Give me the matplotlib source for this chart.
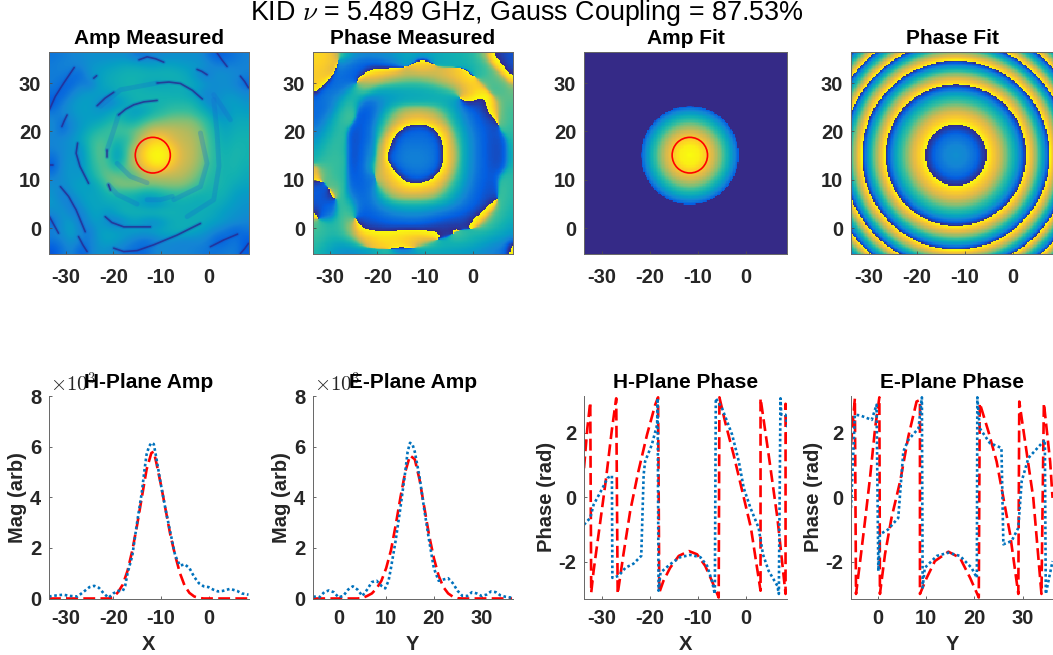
import numpy as np
import matplotlib
matplotlib.use("Agg")
import matplotlib.pyplot as plt
from matplotlib.colors import LinearSegmentedColormap
from matplotlib.patches import Circle

plt.rcParams['font.family'] = ['Liberation Sans', 'DejaVu Sans']
plt.rcParams['mathtext.fontset'] = 'cm'
plt.rcParams['axes.unicode_minus'] = False

SUPTITLE = r'KID $\nu$ = 5.489 GHz, Gauss Coupling = 87.53%'
TOP_TITLES = ['Amp Measured', 'Phase Measured', 'Amp Fit', 'Phase Fit']
BOTTOM_TITLES = ['H-Plane Amp', 'E-Plane Amp', 'H-Plane Phase', 'E-Plane Phase']
X_TICKS = [-30, -20, -10, 0]
Y_TICKS = [0, 10, 20, 30]
X_LIMS = [(-33.5, 8.4), (-33.5, 8.4), (-33.7, 8.5), (-33.7, 8.5)]
Y_LIM = (-5.3, 36.4)
E_LIMS = [(-5.35, 36.5), (-5.6, 36.5)]
CENTER = (-11.7, 15.1)
PHASE_CENTER = (-11.9, 15.1)
BEAM_RADIUS = 3.68

PARULA_ANCHORS = [(.208,.166,.529),(.014,.372,.884),(.078,.518,.835),(.024,.624,.767),(.074,.698,.690),
                  (.216,.745,.612),(.49,.75,.47),(.72,.73,.36),(.90,.73,.27),(.99,.81,.15),(.976,.983,.054)]

# Amp Measured, percent of the colour range, rows from top to bottom
AMP_MEAS = [
[22,24,26,28,30,30,30,30,30,22,22,26,28,30,30,30,30,22,15,18,22,25],
[24,26,26,26,32,34,36,38,40,40,38,36,38,38,36,34,34,30,25,25,25,26],
[24,24,20,18,32,36,40,42,44,44,44,44,44,44,42,38,26,22,32,30,28,25],
[24,18,16,26,20,36,40,42,44,44,40,38,38,40,42,40,38,32,28,30,26,18],
[20,14,26,32,36,36,36,40,42,44,44,44,44,42,42,38,30,26,30,32,32,28],
[12,24,32,36,36,30,22,30,38,44,44,44,44,46,46,46,40,26,30,36,36,32],
[22,28,32,36,36,32,36,42,40,34,36,44,48,50,50,50,46,40,26,30,38,36],
[28,20,28,34,36,38,44,48,42,42,50,54,56,58,58,58,54,48,38,34,40,40],
[28,18,28,34,42,48,50,52,52,55,60,68,68,66,64,62,58,50,42,38,42,42],
[26,28,32,38,48,52,50,46,48,56,72,85,85,72,66,64,60,52,44,40,44,44],
[26,28,32,30,48,54,50,36,50,66,88,97,97,88,70,66,60,52,46,42,46,44],
[20,28,34,28,46,54,50,30,52,68,90,100,100,90,72,66,60,52,46,44,46,44],
[14,30,34,30,44,52,52,44,54,64,80,92,92,78,68,64,58,50,46,44,46,42],
[24,30,34,32,40,50,56,56,50,50,60,64,64,64,64,60,54,48,46,44,44,40],
[30,28,34,38,34,42,52,58,60,60,58,56,58,58,58,54,50,46,46,44,40,38],
[32,22,30,36,38,38,44,46,44,44,38,40,44,48,48,46,44,44,44,42,36,34],
[34,28,22,32,38,38,40,40,42,38,32,28,34,40,42,42,40,42,42,38,34,32],
[28,34,24,24,36,38,32,40,44,44,46,46,46,44,42,40,42,42,38,34,32,30],
[18,32,36,20,32,36,26,22,30,36,28,26,32,40,42,42,42,38,36,32,30,26],
[26,30,38,26,22,36,38,36,36,36,36,38,40,42,42,40,36,32,26,22,14,22],
[22,26,34,24,24,34,38,36,30,24,20,22,28,28,26,26,28,24,14,16,24,14],
[12,22,28,14,24,32,30,26,22,20,18,26,28,26,26,26,24,22,22,24,24,14],
]
# Colour response of the Amp Measured panel
AMP_LEVEL_IN = [0, 12, 20, 30, 36, 40, 44, 48, 50, 54, 58, 62, 66, 72, 85, 97, 100]
AMP_LEVEL_OUT = [0, 8, 14, 24, 30, 35, 40, 45, 50, 56, 62, 68, 73, 78, 90, 98, 100]
# Thin dark nulls in Amp Measured, read in data coordinates
AMP_NULLS = [
[(-33.4,24.5),(-32.2,27.2),(-30.4,30),(-28.2,33.2)], [(-24.1,31),(-23.5,31.5)],
[(-14.6,34.8),(-12.9,35.4),(-11.1,35),(-9.4,34.3)],
[(1.8,36.2),(2.8,34.8),(3.9,33.4)], [(-2.4,32.8),(-1.4,32.4),(-.3,31.7)], [(6.7,31.4),(7.6,30.3),(8.4,29)],
[(-10.8,30),(-8.3,30.2),(-5.9,29.9),(-3.4,28.5),(-1.3,26.7)],
[(-23.4,25.3),(-21.7,26.9),(-19.9,28.1)], [(-18.9,23.4),(-17.4,24.6),(-15.7,25.5),(-13.6,26.1),(-10.8,26.4)],
[(-30.8,21),(-30.3,22.2),(-29.7,23.4)],
[(-27.5,17.6),(-27.8,15.5),(-27,12.8),(-25.2,9.3)], [(-21.3,16.2),(-21.3,14.8)], [(-33.2,13.1),(-32.6,13.1)],
[(-31.1,8.6),(-29.4,6.6),(-27.8,3.8),(-25.9,-.7)], [(-21,9),(-20.6,7.9)],
[(-21.7,2.4),(-20.3,1.2),(-17.8,.3),(-12.2,.3)],
[(-19.9,-4.1),(-17.8,-4.8),(-15,-4.6),(-11.5,-3.4),(-6.6,-1.4),(-1.7,1)],
[(.4,-3.8),(3.2,-2.4),(6.1,-1.2)], [(-27.3,-1.7),(-26.4,-3.4),(-25.5,-4.8)],
[(-33.4,2.4),(-32.4,.6),(-31.5,-1)], [(6.7,-5.2),(7.6,-4.2),(8.4,-3.1)],
]
AMP_FAINT = [
[(-12.9,5.9),(-10.1,5.9),(-7.6,6.6)], [(-19.2,13.4),(-16.4,10.7),(-12.9,9.4)], [(1.1,27.6),(2.9,25),(4.6,22.4)],
[(-22.7,25.2),(-18.5,28.6),(-10.8,30)], [(-1.7,19.7),(-.3,13.4),(-1.7,8.6),(-7.3,5.9)],
[(1.1,26.6),(1.8,19.7),(2.2,12.8),(1.1,5.9),(-4.5,2.4)], [(-21.3,16.2),(-20,20),(-18.9,23.4)],
[(-21,9),(-19.2,7),(-15,5)],
]

# Phase Measured, percent of one cycle, rows from top to bottom
PHASE_MEAS = [
[90,95,80,55,35,25,25,25,28,32,35,35,35,35,38,40,42,48,70,5,5,8],
[92,92,85,30,15,12,12,15,18,25,33,95,95,35,35,38,40,42,55,90,5,10],
[88,88,60,15,10,12,95,92,88,85,80,78,78,82,85,88,95,40,45,55,90,8],
[90,85,15,12,12,70,75,68,62,58,55,55,58,65,72,80,92,97,55,52,58,95],
[85,20,15,15,40,58,45,35,33,32,32,33,35,40,48,58,72,88,95,48,50,58],
[15,15,18,35,50,25,12,18,25,30,35,35,35,33,30,25,90,3,5,90,55,55],
[12,12,20,45,55,8,8,22,45,62,68,70,68,62,48,30,18,10,5,85,52,50],
[12,18,35,52,55,8,10,32,58,75,85,88,85,78,60,38,22,12,8,5,60,48],
[15,25,40,50,8,8,15,45,72,95,12,12,14,96,80,50,28,15,10,6,55,45],
[22,35,45,52,6,8,15,55,92,14,14,14,14,12,90,60,32,18,10,6,8,48],
[30,42,50,45,6,8,25,65,95,16,18,18,17,15,92,65,35,18,10,6,6,45],
[40,45,50,50,6,8,25,70,14,18,20,20,19,15,93,68,35,18,10,6,6,42],
[92,55,50,48,6,10,40,72,92,15,18,19,18,14,92,62,33,18,10,7,6,45],
[90,60,50,48,8,10,18,70,88,97,12,14,12,95,80,55,30,16,10,8,50,45],
[10,12,60,50,12,10,15,55,78,88,95,95,90,85,62,42,25,14,9,6,55,42],
[8,10,92,52,18,12,15,38,62,70,72,72,70,62,48,32,20,12,8,8,55,42],
[8,10,15,55,42,12,14,22,32,38,40,40,38,33,28,20,14,10,8,88,50,40],
[88,12,14,55,50,8,10,12,16,18,20,20,18,14,12,10,8,6,90,55,45,38],
[55,50,45,50,75,6,8,8,10,10,10,10,8,6,3,2,3,90,60,48,40,32],
[52,48,42,50,65,90,95,97,95,92,92,92,95,95,3,60,50,45,40,35,32,25],
[48,42,35,30,40,60,78,88,92,90,85,70,60,50,45,40,38,35,30,25,22,90],
[45,35,28,22,18,22,30,40,45,30,28,28,28,28,28,28,26,24,20,16,15,90],
]

# Amp Fit: radial colour profile read across the disc
AMP_FIT_R = [0, 2, 3.5, 5, 6.5, 8, 9.5, 10.1, 10.15, 60]
AMP_FIT_V = [1.0, .97, .88, .75, .58, .38, .18, .1, 0, 0]
# Phase Fit: radius and unwrapped phase, with the ring edges
PHASE_FIT_R = [0, 2, 4, 6.35, 9, 12, 14.6, 17, 19.5, 21.5, 23.5, 27, 30.3, 34, 40]
PHASE_FIT_P = [-1.67, -1.82, -2.26, -3.1416, -4.61, -6.9, -9.4248, -12.16, -15.708, -18.45, -21.99, -28.27, -34.56, -43.6, -59.7]

H_AMP_BLUE_X = [-33.5,-32,-30.5,-29,-27.5,-26,-25,-24,-23,-22,-21,-20,-19,-18,-17.5,-17,-16,-15,-14,-13.5,-13,-12.5,-12,-11.5,-11,-10,-9,-8,-7,-6,-5,-4,-3,-2,-1,0,1,2,3,4.5,6,7,8.4]
H_AMP_BLUE_Y = [.08,.12,.15,.1,.08,.3,.45,.5,.42,.2,.03,.2,.3,.3,.5,1.0,1.7,3.0,4.2,5.0,5.7,6.0,6.15,6.1,5.6,4.5,3.5,2.6,1.7,1.3,1.35,1.2,.85,.6,.48,.45,.35,.28,.3,.38,.3,.2,.15]
H_AMP_RED_X = [-33.5,-21,-20,-19,-18,-17,-16,-15,-14,-13,-12,-11.5,-11,-10,-9,-8,-7,-6,-5,-4,-3,-2,-1,8.4]
H_AMP_RED_Y = [0,0,.05,.25,.55,1.1,1.9,2.9,4.0,5.1,5.75,5.8,5.4,4.5,3.5,2.5,1.7,1.0,.5,.22,.08,.02,0,0]
E_AMP_BLUE_X = [-5.3,-4,-3,-2,-1,0,1,2,3,4,5,6,7,8,9,9.8,10.5,11,12,13,14,14.5,15,15.5,16,17,18,19,20,21,22,23,24,25,26,27,28,29,30,31,32,33,34,35,36.4]
E_AMP_BLUE_Y = [.08,.05,.25,.32,.25,.05,.1,.35,.48,.35,.1,.35,.65,.7,.5,.4,.7,1.2,2.3,3.6,5,5.8,6.15,6.1,5.8,4.8,3.5,2.3,1.2,.7,.75,.8,.6,.3,.1,.1,.25,.2,.1,.15,.28,.25,.12,.07,.03]
E_AMP_RED_X = [-5.3,4,5,6,7,8,9,10,11,12,13,14,15,16,17,18,19,20,21,22,23,24,25,26,36.4]
E_AMP_RED_Y = [0,0,.02,.1,.2,.4,.7,1.2,1.9,2.9,4.0,5.0,5.65,5.5,4.7,3.6,2.5,1.6,.9,.45,.2,.07,.01,0,0]

H_PH_RED_X = [-33.7,-33,-32.4,-32.2,-31.7,-30.3,-29.1,-27.9,-27,-26.7,-25.5,-24.1,-22.4,-20.6,-18.9,-18.3,-18.05,-17.2,-15.8,-14,-11.9,-10.2,-8.5,-7.1,-5.7,-5.55,-4.3,-2.6,-.8,1,3,3,4.7,6.5,8.2,8.2,8.7]
H_PH_RED_Y = [.9,2.15,2.95,-2.96,-2.28,-.74,.6,2.1,3.07,-3.0,-1.77,-.43,.8,1.94,2.87,3.1,-2.96,-2.6,-2.19,-1.82,-1.67,-1.77,-2.13,-2.6,-3.11,3.1,2.3,1.32,.19,-.95,-2.9,3.07,1.3,-.64,-3.0,2.9,1.5]
H_PH_BLUE_X = [-33.7,-32.4,-31.7,-30,-28.8,-27.9,-27.8,-26.5,-25.1,-23.4,-21.8,-21.3,-21,-19.6,-18.5,-18.4,-18.2,-17.8,-15.8,-13.7,-11.6,-9.5,-8.1,-7.1,-6.5,-6.3,-5,-2.9,-1.5,-.5,.9,2.6,3.5,4.7,6.5,6.8,7.15,7.3,8.2,8.7]
H_PH_BLUE_Y = [-.85,-.64,-.23,.24,.6,.67,-2.5,-2.44,-2.19,-2.06,-1.82,.7,1.11,1.63,2.25,3.07,-2.9,-2.34,-2.08,-1.86,-1.79,-1.86,-2.13,-2.6,-3.0,3.07,2.76,1.94,1.1,.29,-.33,-.95,-1.77,-2.29,-2.75,-3.0,3.07,2.56,2.56,2.1]
E_PH_RED_X = [-5.6,-4.8,-4.56,-3.7,-2.7,-1.66,-.6,.28,.4,1.45,2.8,4.6,6.3,8,8.7,8.7,10.1,11.8,14.6,17,19.1,20.9,21.1,22.9,24.6,26,27.4,29.1,29.3,30.8,32.2,33.9,34.4,35.7,36.2]
E_PH_RED_Y = [1.63,3.07,-3,-1.98,-.74,.6,2.14,3.1,-3,-1.77,-.64,.5,1.89,2.97,3.02,-3.0,-2.5,-1.98,-1.69,-1.88,-2.5,-3.11,2.92,2.04,1.11,-.02,-1.15,-3,2.97,1.42,-.02,-3,2.92,1.11,-.02]
E_PH_BLUE_X = [-5.6,-4.8,-3.7,-1.3,-.3,.07,.4,2.1,4.2,5.25,6.3,8.4,9.1,9.26,9.7,12.2,14.6,17,19.4,20.5,20.6,21.1,23.2,25.6,26,27.7,29.1,29.8,31.2,34.6,34.8,36.2]
E_PH_BLUE_Y = [-.33,2.56,2.54,2.4,2.87,-2.29,-1.15,-1,-.64,1.42,1.78,2.14,3.1,-2.8,-2.19,-1.82,-1.72,-1.82,-2.19,-2.5,3.1,2.14,1.68,1.53,-1.46,-1.36,-.95,.5,1.22,1.78,-3,-1.98]

W, H = 1053, 655
GRAY = (.15, .15, .15)
BLUE = (0, .447, .741)
RED = (1, 0, 0)
parula = LinearSegmentedColormap.from_list('parula', PARULA_ANCHORS, N=256)

fig = plt.figure(figsize=(W/100, H/100), dpi=100)

def make_ax(left, right, top, bottom):
    ax = fig.add_axes([left/W, 1-bottom/H, (right-left)/W, (bottom-top)/H])
    ax.tick_params(direction='in', length=2.5, width=.6, color=(.3,.3,.3), labelsize=14.5, labelcolor=GRAY, pad=5.5)
    for s in ax.spines.values():
        s.set_linewidth(.7)
        s.set_color((.4,.4,.4))
    return ax

def bold_ticks(ax):
    for lab in ax.get_xticklabels() + ax.get_yticklabels():
        lab.set_fontweight('bold')

def title(ax, txt):
    ax.set_title(txt, fontsize=15, fontweight='bold', color='black', pad=6)

def upsample(grid, n):
    grid = np.asarray(grid)
    r, c = grid.shape
    ri = np.linspace(0, r-1, (r-1)*n+1)
    ci = np.linspace(0, c-1, (c-1)*n+1)
    a = np.array([np.interp(ci, np.arange(c), row) for row in grid])
    return np.array([np.interp(ri, np.arange(r), col) for col in a.T]).T

def soften(a, w, passes=3):
    k = np.ones(w)/w
    for _ in range(passes):
        p = np.pad(a, ((w//2, w//2), (0, 0)), mode='edge')
        a = np.apply_along_axis(lambda v: np.convolve(v, k, mode='valid'), 0, p)
        p = np.pad(a, ((0, 0), (w//2, w//2)), mode='edge')
        a = np.apply_along_axis(lambda v: np.convolve(v, k, mode='valid'), 1, p)
    return a

LEFTS = [(49, 248.5), (313, 512.5), (584, 787), (851, 1054)]
xc = np.linspace(X_LIMS[2][0], X_LIMS[2][1], 150)
yc = np.linspace(Y_LIM[0], Y_LIM[1], 150)
XX, YY = np.meshgrid(xc, yc)

tops = [make_ax(l, r, 52, 254) for (l, r) in LEFTS]

ext0 = [X_LIMS[0][0], X_LIMS[0][1], Y_LIM[0], Y_LIM[1]]
amp_display = np.interp(np.array(AMP_MEAS), AMP_LEVEL_IN, AMP_LEVEL_OUT)/100.
tops[0].imshow(amp_display, cmap=parula, vmin=0, vmax=1, extent=ext0, aspect='auto', interpolation='bicubic')
for seg in AMP_FAINT:
    sx, sy = zip(*seg)
    tops[0].plot(sx, sy, color=(.08,.42,.82), lw=3.5, alpha=.28, solid_capstyle='round')
for seg in AMP_NULLS:
    sx, sy = zip(*seg)
    tops[0].plot(sx, sy, color=(.08,.3,.75), lw=3, alpha=.25, solid_capstyle='round')
    tops[0].plot(sx, sy, color=(.16,.14,.55), lw=1.2, alpha=.75, solid_capstyle='round')

ang = 2*np.pi*np.array(PHASE_MEAS)/100.
zre = soften(upsample(np.cos(ang), 8), 9)
zim = soften(upsample(np.sin(ang), 8), 9)
img = np.mod(np.arctan2(zim, zre)/(2*np.pi), 1.0)
tops[1].imshow(img, cmap=parula, vmin=0, vmax=1, extent=ext0, aspect='auto', interpolation='nearest')

RA = np.hypot(XX-CENTER[0], YY-CENTER[1])
RP = np.hypot(XX-PHASE_CENTER[0], YY-PHASE_CENTER[1])
tops[2].pcolormesh(XX, YY, np.interp(RA, AMP_FIT_R, AMP_FIT_V), cmap=parula, vmin=0, vmax=1, shading='nearest')
pf = np.interp(RP, PHASE_FIT_R, PHASE_FIT_P)
tops[3].pcolormesh(XX, YY, np.mod(pf+np.pi, 2*np.pi)-np.pi, cmap=parula, vmin=-np.pi, vmax=np.pi, shading='nearest')

for ax in (tops[0], tops[2]):
    ax.add_patch(Circle(CENTER, BEAM_RADIUS, fill=False, edgecolor=RED, lw=1.2))

for ax, t, xl in zip(tops, TOP_TITLES, X_LIMS):
    ax.set_xlim(*xl); ax.set_ylim(*Y_LIM)
    ax.set_xticks(X_TICKS); ax.set_yticks(Y_TICKS)
    ax.tick_params(axis='x', pad=10)
    bold_ticks(ax)
    title(ax, t)

bots = []
for (l, r) in LEFTS:
    ax = make_ax(l, r, 396, 598.5)
    ax.spines['top'].set_visible(False)
    ax.spines['right'].set_visible(False)
    ax.tick_params(axis='x', pad=7.5)
    bots.append(ax)

DOT = (0, (1, 1))
DASH = (0, (4.5, 2))
LW = 1.9
bots[0].plot(H_AMP_RED_X, H_AMP_RED_Y, color=RED, ls=DASH, lw=LW)
bots[0].plot(H_AMP_BLUE_X, H_AMP_BLUE_Y, color=BLUE, ls=DOT, lw=LW)
bots[1].plot(E_AMP_RED_X, E_AMP_RED_Y, color=RED, ls=DASH, lw=LW)
bots[1].plot(E_AMP_BLUE_X, E_AMP_BLUE_Y, color=BLUE, ls=DOT, lw=LW)
bots[2].plot(H_PH_RED_X, H_PH_RED_Y, color=RED, ls=DASH, lw=LW)
bots[2].plot(H_PH_BLUE_X, H_PH_BLUE_Y, color=BLUE, ls=DOT, lw=LW)
bots[3].plot(E_PH_RED_X, E_PH_RED_Y, color=RED, ls=DASH, lw=LW)
bots[3].plot(E_PH_BLUE_X, E_PH_BLUE_Y, color=BLUE, ls=DOT, lw=LW)

for i, (ax, t) in enumerate(zip(bots, BOTTOM_TITLES)):
    if i == 0:
        ax.set_xlim(*X_LIMS[0])
    elif i == 2:
        ax.set_xlim(*X_LIMS[2])
    else:
        ax.set_xlim(*E_LIMS[(i-1)//2])
    if i in (0, 2):
        ax.set_xticks(X_TICKS); ax.set_xlabel('X', fontsize=14.5, fontweight='bold', color=GRAY, labelpad=5)
    else:
        ax.set_xticks([0, 10, 20, 30]); ax.set_xlabel('Y', fontsize=14.5, fontweight='bold', color=GRAY, labelpad=5)
    if i < 2:
        ax.set_ylim(0, 8); ax.set_yticks([0, 2, 4, 6, 8])
        ax.set_ylabel('Mag (arb)', fontsize=14.5, fontweight='bold', color=GRAY, labelpad=2)
        ax.text(0.005, 1.0, r'$\times 10^{3}$', transform=ax.transAxes, fontsize=15, color=GRAY, va='bottom', ha='left')
    else:
        ax.set_ylim(-np.pi, np.pi); ax.set_yticks([-2, 0, 2])
        ax.set_ylabel('Phase (rad)', fontsize=14.5, fontweight='bold', color=GRAY, labelpad=2)
    bold_ticks(ax)
    title(ax, t)

fig.text(527/W, 1-13/H, SUPTITLE, fontsize=19.4, ha='center', va='center', color='black')

fig.savefig('out.png', dpi=100)
